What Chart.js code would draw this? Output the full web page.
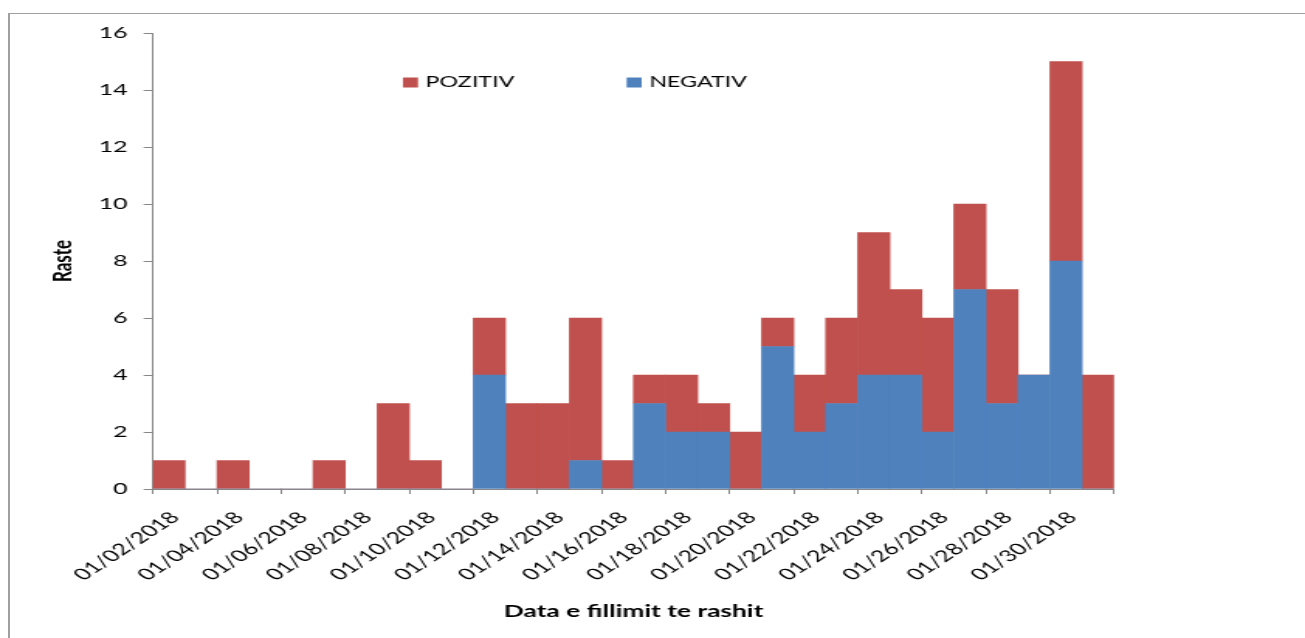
<!DOCTYPE html>
<html>
<head>
<meta charset="utf-8">
<title>Raste sipas dates se fillimit</title>
<script src="https://cdn.jsdelivr.net/npm/chart.js@4.4.1/dist/chart.umd.min.js"></script>
<style>
  html, body { margin: 0; padding: 0; background: #fff; overflow: hidden; }
  #frame {
    position: absolute; left: 8px; top: 13px; right: -10px; bottom: -10px;
    border-left: 2px solid #a0a0a0; border-top: 1px solid #a0a0a0;
  }
  /* the original picture is stretched sideways, so the chart is too */
  #wrap {
    position: absolute; left: 0; top: 0; width: 842px; height: 638px;
    transform: scaleX(1.5499); transform-origin: 0 0;
  }
</style>
</head>
<body>
<div id="frame"></div>
<div id="wrap"><canvas id="rasteChart"></canvas></div>
<script>
const dates = [
  "01/02/2018", "01/03/2018", "01/04/2018", "01/05/2018", "01/06/2018",
  "01/07/2018", "01/08/2018", "01/09/2018", "01/10/2018", "01/11/2018",
  "01/12/2018", "01/13/2018", "01/14/2018", "01/15/2018", "01/16/2018",
  "01/17/2018", "01/18/2018", "01/19/2018", "01/20/2018", "01/21/2018",
  "01/22/2018", "01/23/2018", "01/24/2018", "01/25/2018", "01/26/2018",
  "01/27/2018", "01/28/2018", "01/29/2018", "01/30/2018", "01/31/2018",
];
const negativ = [0, 0, 0, 0, 0, 0, 0, 0, 0, 0, 4, 0, 0, 1, 0, 3, 2, 2, 0, 5, 2, 3, 4, 4, 2, 7, 3, 4, 8, 0];
const pozitiv = [1, 0, 1, 0, 0, 1, 0, 3, 1, 0, 2, 3, 3, 5, 1, 1, 2, 1, 2, 1, 2, 3, 5, 3, 4, 3, 4, 0, 7, 4];
const yTicks = { min: 0, max: 16, step: 2 };

const AXIS = "#868686";
Chart.defaults.font.family = "Lato, 'Open Sans', sans-serif";
Chart.defaults.color = "#000";

// legend sits inside the plot, POZITIV first
const legendInside = {
  id: "legendInside",
  afterDraw(chart) {
    const { ctx, chartArea } = chart;
    const offsets = [161.3, 305.6];
    const y = 82.5;
    ctx.save();
    ctx.font = "15px Lato, sans-serif";
    ctx.textBaseline = "middle";
    [1, 0].forEach((di, k) => {
      const ds = chart.data.datasets[di];
      const x = chartArea.left + offsets[k];
      ctx.fillStyle = ds.backgroundColor;
      ctx.fillRect(x, y - 5, 9.7, 10);
      ctx.fillStyle = "#000";
      ctx.fillText(ds.label, x + 14.6, y);
    });
    ctx.restore();
  },
};

const el = document.getElementById("rasteChart");

new Chart(el, {
  type: "bar",
  data: {
    labels: dates,
    datasets: [
      { label: "NEGATIV", data: negativ, backgroundColor: "#4F81BD" },
      { label: "POZITIV", data: pozitiv, backgroundColor: "#C0504D" },
    ],
  },
  options: {
    responsive: true,
    maintainAspectRatio: false,
    animation: false,
    layout: { padding: { left: 0, top: 33, right: 123.2, bottom: 0 } },
    datasets: {
      bar: { barPercentage: 1, categoryPercentage: 1, borderWidth: 0 },
    },
    plugins: {
      legend: { display: false },
      tooltip: { enabled: false },
    },
    scales: {
      x: {
        stacked: true,
        grid: {
          drawOnChartArea: false,
          tickLength: 5,
          color: AXIS,
          tickColor: (c) => (c.index === undefined || c.index % 2 === 0 ? AXIS : "rgba(0,0,0,0)"),
        },
        border: { color: AXIS },
        ticks: {
          autoSkip: false,
          minRotation: 45,
          maxRotation: 45,
          padding: 14,
          labelOffset: 4,
          font: { size: 16 },
          callback: (v, i) => (i % 2 === 0 ? dates[i] : ""),
        },
        title: {
          display: true,
          text: "Data e fillimit te rashit",
          font: { size: 17, weight: "bold" },
          padding: { top: 0, bottom: 16 },
        },
        afterFit: (s) => { s.height = 149; },
      },
      y: {
        stacked: true,
        min: yTicks.min,
        max: yTicks.max,
        ticks: { stepSize: yTicks.step, padding: 10.5, font: { size: 16 } },
        grid: { drawOnChartArea: false, tickLength: 6, color: AXIS },
        border: { color: AXIS },
        title: {
          display: true,
          text: "Raste",
          font: { size: 17, weight: "bold" },
          padding: { top: 30, bottom: 0 },
        },
        afterFit: (s) => { s.width = 98.7; },
      },
    },
  },
  plugins: [legendInside],
});
</script>
</body>
</html>
